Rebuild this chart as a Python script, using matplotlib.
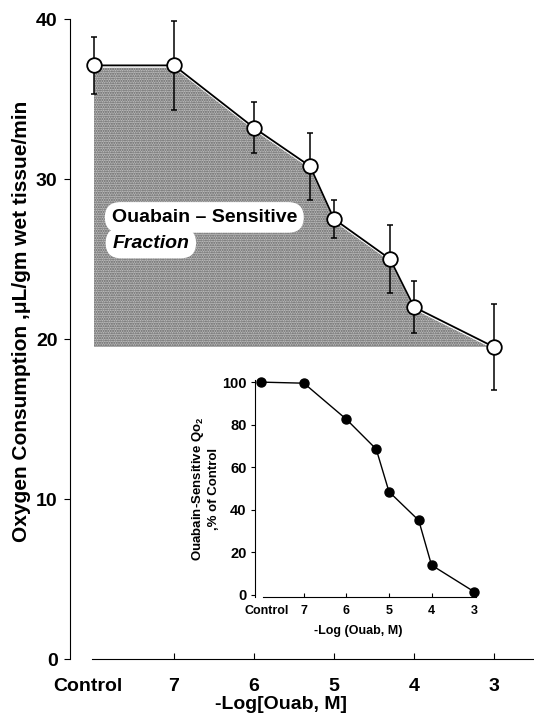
import numpy as np
import matplotlib
matplotlib.use("Agg")
import matplotlib.pyplot as plt

plt.rcParams['font.family'] = ['Liberation Sans', 'DejaVu Sans']

# main panel: oxygen consumption vs -log[ouabain]  (control plotted at 8)
conc = np.array([8.0, 7.0, 6.0, 5.3, 5.0, 4.3, 4.0, 3.0])
qo2 = np.array([37.1, 37.1, 33.2, 30.8, 27.5, 25.0, 22.0, 19.5])
qo2_err = np.array([1.8, 2.8, 1.6, 2.1, 1.2, 2.1, 1.6, 2.7])

# inset: ouabain-sensitive fraction, % of control
pct = np.array([100, 99.5, 82.5, 68.5, 48.5, 35, 14, 1.5])

main_ticks = [8.08, 7, 6, 5, 4, 3]
inset_ticks = [7.87, 7, 6, 5, 4, 3]
tick_labels = ['Control', '7', '6', '5', '4', '3']

fig = plt.figure(figsize=(5.34, 7.19), dpi=100)
ax = fig.add_axes([70/534, 60/719, 464/534, 640/719])

# shaded ouabain-sensitive area
ax.fill_between(conc, qo2 - 0.15, qo2.min(), facecolor='#bcbcbc',
                edgecolor='#606060', hatch='.......', linewidth=0, zorder=1)

ax.errorbar(conc, qo2, yerr=qo2_err, fmt='none', ecolor='black',
            elinewidth=1.1, capsize=2, capthick=1.1, zorder=2, clip_on=False)
ax.plot(conc, qo2, '-', color='black', lw=1.3, zorder=3)
ax.plot(conc, qo2, 'o', ms=10.5, mfc='white', mec='black', mew=1.3,
        zorder=4, clip_on=False)

ax.set_xlim(8.3, 2.5)
ax.set_ylim(0, 40)
ax.spines['top'].set_visible(False)
ax.spines['right'].set_visible(False)
ax.spines['bottom'].set_bounds(8.03, 2.5)
ax.set_yticks([0, 10, 20, 30, 40])
ax.set_xticks(main_ticks)
ax.set_xticklabels(tick_labels)
ax.xaxis.get_major_ticks()[0].tick1line.set_visible(False)
ax.tick_params(axis='y', direction='out', length=4, labelsize=14, pad=5)
ax.tick_params(axis='x', direction='in', length=4, labelsize=14, pad=14)
for lab in ax.get_xticklabels() + ax.get_yticklabels():
    lab.set_fontweight('bold')

ax.set_ylabel('Oxygen Consumption ,\u03bcL/gm wet tissue/min',
              fontsize=15, fontweight='bold')
ax.yaxis.set_label_coords(-0.085, 0.527)
ax.set_xlabel('-Log[Ouab, M]', fontsize=14, fontweight='bold')
ax.xaxis.set_label_coords(0.455, -0.058)

box = dict(boxstyle='round,pad=0.35,rounding_size=0.8', fc='white', ec='none')
ax.text(7.78, 27.6, 'Ouabain \u2013 Sensitive', fontsize=14, fontweight='bold',
        va='center', ha='left', bbox=box, zorder=5)
ax.text(7.77, 26.0, 'Fraction', fontsize=14, fontweight='bold',
        style='italic', va='center', ha='left', bbox=box, zorder=5)

# inset
ins = fig.add_axes([255/534, 122/719, 225/534, 217/719])
ins.plot(conc, pct, '-', color='black', lw=1.0)
ins.plot(conc, pct, 'o', ms=6.5, color='black', clip_on=False)
ins.set_xlim(8.15, 2.86)
ins.set_ylim(-1, 101)
ins.spines['top'].set_visible(False)
ins.spines['right'].set_visible(False)
ins.spines['bottom'].set_bounds(7.96, 2.95)
ins.set_yticks([0, 20, 40, 60, 80, 100])
ins.set_xticks(inset_ticks)
ins.set_xticklabels(tick_labels)
ins.xaxis.get_major_ticks()[0].tick1line.set_visible(False)
ins.tick_params(axis='y', direction='out', length=3, labelsize=10.5, pad=3)
ins.tick_params(axis='x', direction='in', length=3, labelsize=9, pad=6)
for lab in ins.get_xticklabels() + ins.get_yticklabels():
    lab.set_fontweight('bold')
ins.set_ylabel('Ouabain-Sensitive Q$\\mathregular{o_2}$\n,% of Control',
               fontsize=9.5, fontweight='bold', linespacing=1.2)
ins.yaxis.set_label_coords(-0.155, 0.5)
ins.set_xlabel('-Log (Ouab, M)', fontsize=9, fontweight='bold')
ins.xaxis.set_label_coords(0.46, -0.13)

fig.savefig('out.png', dpi=100)
